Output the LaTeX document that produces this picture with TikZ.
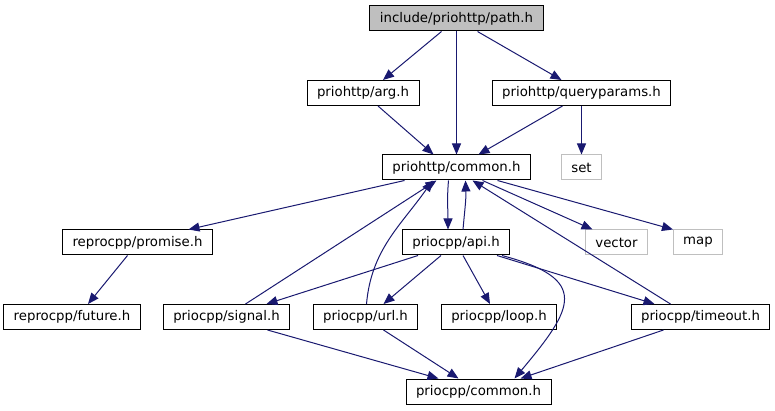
\documentclass[tikz,border=0pt]{standalone}
\usepackage{fontspec}
\setmainfont{DejaVu Sans}
\usepackage{tikz}
\usetikzlibrary{arrows.meta}
\usepackage{xcolor}
\definecolor{edgeblue}{HTML}{191970}
\definecolor{boxgray}{HTML}{BFBFBF}

\begin{document}
\begin{tikzpicture}[x=1pt, y=1pt,
    hdr/.style={draw, line width=1pt, minimum height=25pt, inner xsep=10pt,
                inner ysep=0pt, font=\fontsize{13.3}{15}\selectfont},
    topfile/.style={hdr, fill=boxgray},
    sys/.style={hdr, draw=boxgray},
    dep/.style={-{Triangle[length=11pt,width=9pt]}, edgeblue, line width=1pt}
]
\useasboundingbox (0,0) rectangle (775,-411);
% row heights (picture runs downwards)
\def\rA{-18.5}    % the file itself
\def\rB{-93}      % arg.h, queryparams.h
\def\rC{-167.5}   % priohttp/common.h
\def\rD{-242.5}   % promise.h, api.h
\def\rE{-317}     % future.h ... timeout.h
\def\rF{-391.5}   % priocpp/common.h

% nodes
\node[topfile] (path) at (456.5, \rA) {include/priohttp/path.h};

\node[hdr] (arg) at (363, \rB) {priohttp/arg.h};
\node[hdr] (qp)  at (581.5, \rB) {priohttp/queryparams.h};

\node[hdr] (common) at (456.5, \rC) {priohttp/common.h};
\node[sys] (set)    at (581.5, \rC) {set};

\node[hdr] (promise) at (137.5, \rD) {reprocpp/promise.h};
\node[hdr] (api)     at (456, \rD) {priocpp/api.h};
\node[sys] (vector)  at (616.5, \rD) {vector};
\node[sys] (map)     at (698, \rD) {map};

\node[hdr] (future)  at (72, \rE) {reprocpp/future.h};
\node[hdr] (signal)  at (226.5, \rE) {priocpp/signal.h};
\node[hdr] (url)     at (365.5, \rE) {priocpp/url.h};
\node[hdr] (loop)    at (499, \rE) {priocpp/loop.h};
\node[hdr] (timeout) at (700.5, \rE) {priocpp/timeout.h};

\node[hdr] (pcommon) at (478.5, \rF) {priocpp/common.h};

% includes of path.h
\draw[dep] ([xshift=-15]path.south) -- ([xshift=20]arg.north);
\draw[dep] (path.south) -- (common.north);
\draw[dep] ([xshift=21]path.south) -- ([xshift=-20]qp.north);

% second row
\draw[dep] ([xshift=15]arg.south) -- ([xshift=-23]common.north);
\draw[dep] ([xshift=-19]qp.south) -- ([xshift=22]common.north);
\draw[dep] (qp.south) -- (set.north);

% priohttp/common.h
\draw[dep] ([xshift=-52]common.south) -- ([xshift=51]promise.north);
\draw[dep] ([xshift=-8]common.south) to[out=-95, in=90] ([xshift=-8]api.north);
\draw[dep] ([xshift=7]api.north) to[out=85, in=-88] ([xshift=9]common.south);
\draw[dep] ([xshift=26]common.south) -- ([xshift=-24]vector.north);
\draw[dep] ([xshift=41]common.south) -- ([xshift=-25]map.north);

% back to priohttp/common.h
\draw[dep] ([xshift=19]signal.north) -- ([xshift=-20]common.south);
\draw[dep] ([xshift=1]url.north) to[out=85, in=-125] ([xshift=-24]common.south);
\draw[dep] ([xshift=-30]timeout.north) -- ([xshift=16]common.south);

% priocpp/api.h
\draw[dep] ([xshift=-38]api.south) -- ([xshift=40]signal.north);
\draw[dep] ([xshift=-15]api.south) -- ([xshift=18]url.north);
\draw[dep] ([xshift=7]api.south) -- ([xshift=-9]loop.north);
\draw[dep] ([xshift=41]api.south) -- ([xshift=-46]timeout.north);
\draw[dep] ([xshift=46]api.south) to[out=-15, in=50, looseness=1.9] ([xshift=36]pcommon.north);

% promise -> future
\draw[dep] ([xshift=-10]promise.south) -- ([xshift=16]future.north);

% bottom row
\draw[dep] ([xshift=41]signal.south) -- ([xshift=-40]pcommon.north);
\draw[dep] ([xshift=18]url.south) -- ([xshift=-20]pcommon.north);
\draw[dep] ([xshift=-37]timeout.south) -- ([xshift=42]pcommon.north);

\end{tikzpicture}
\end{document}
